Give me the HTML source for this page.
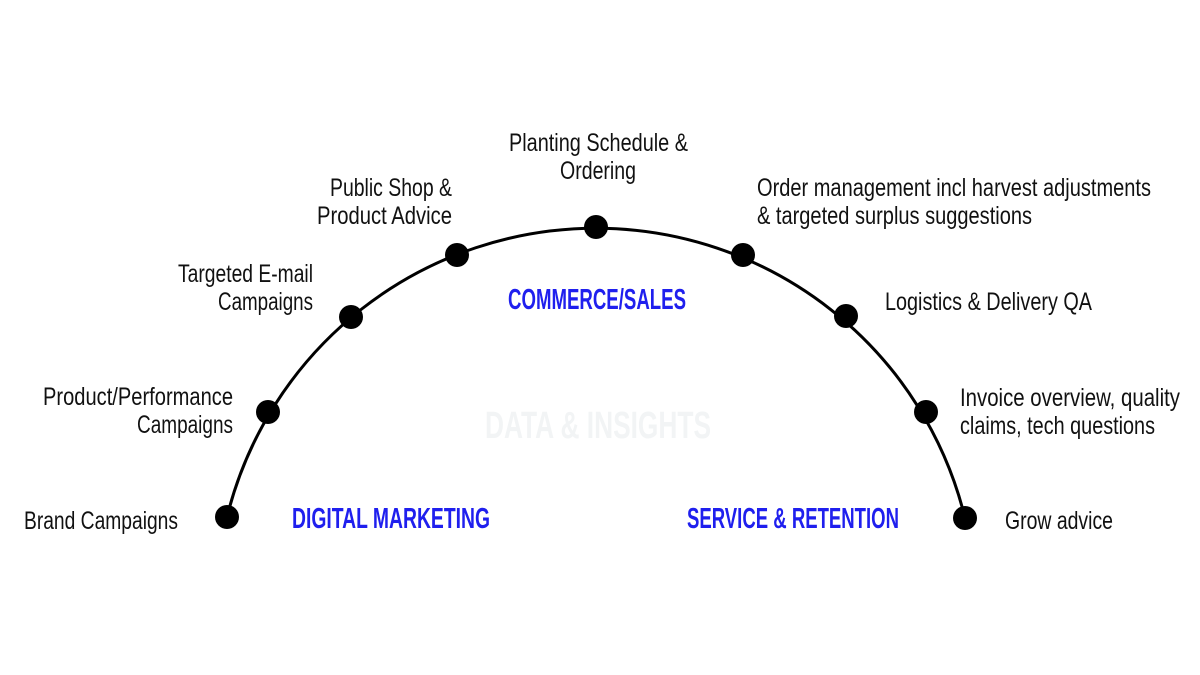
<!DOCTYPE html>
<html><head><meta charset="utf-8"><style>html,body{margin:0;padding:0;background:#fff}svg{display:block}</style></head>
<body>
<svg width="1200" height="675" viewBox="0 0 1200 675" xmlns="http://www.w3.org/2000/svg">
<rect width="1200" height="675" fill="#fff"/>
<text x="485" y="438" font-family="Liberation Sans Narrow, Liberation Sans, sans-serif" font-weight="bold" font-size="38" fill="#f2f4f5" textLength="226" lengthAdjust="spacingAndGlyphs">DATA &amp; INSIGHTS</text>
<path d="M227,517 A380,380 0 0 1 965,518" fill="none" stroke="#000" stroke-width="3"/>
<g fill="#000">
<circle cx="227" cy="517" r="12"/><circle cx="268" cy="412" r="12"/><circle cx="351" cy="317" r="12"/>
<circle cx="457" cy="255" r="12"/><circle cx="596" cy="227" r="12"/><circle cx="743" cy="255" r="12"/>
<circle cx="846" cy="316" r="12"/><circle cx="926" cy="412" r="12"/><circle cx="965" cy="518" r="12"/>
</g>
<g font-family="Liberation Sans Narrow, Liberation Sans, sans-serif" font-size="25" fill="#111">
<text x="24" y="529" textLength="154" lengthAdjust="spacingAndGlyphs">Brand Campaigns</text>
<text x="43" y="405" textLength="190" lengthAdjust="spacingAndGlyphs">Product/Performance</text>
<text x="137" y="433" textLength="96" lengthAdjust="spacingAndGlyphs">Campaigns</text>
<text x="178" y="282" textLength="135" lengthAdjust="spacingAndGlyphs">Targeted E-mail</text>
<text x="218" y="310" textLength="95" lengthAdjust="spacingAndGlyphs">Campaigns</text>
<text x="330" y="196" textLength="122" lengthAdjust="spacingAndGlyphs">Public Shop &amp;</text>
<text x="317" y="224" textLength="135" lengthAdjust="spacingAndGlyphs">Product Advice</text>
<text x="509" y="151" textLength="179" lengthAdjust="spacingAndGlyphs">Planting Schedule &amp;</text>
<text x="560" y="179" textLength="76" lengthAdjust="spacingAndGlyphs">Ordering</text>
<text x="757" y="196" textLength="394" lengthAdjust="spacingAndGlyphs">Order management incl harvest adjustments</text>
<text x="757" y="224" textLength="275" lengthAdjust="spacingAndGlyphs">&amp; targeted surplus suggestions</text>
<text x="885" y="310" textLength="207" lengthAdjust="spacingAndGlyphs">Logistics &amp; Delivery QA</text>
<text x="960" y="406" textLength="220" lengthAdjust="spacingAndGlyphs">Invoice overview, quality</text>
<text x="960" y="434" textLength="195" lengthAdjust="spacingAndGlyphs">claims, tech questions</text>
<text x="1005" y="529" textLength="108" lengthAdjust="spacingAndGlyphs">Grow advice</text>
</g>
<g font-family="Liberation Sans Narrow, Liberation Sans, sans-serif" font-weight="bold" font-size="29" fill="#1f1fee">
<text x="508" y="309" textLength="178" lengthAdjust="spacingAndGlyphs">COMMERCE/SALES</text>
<text x="292" y="528" textLength="198" lengthAdjust="spacingAndGlyphs">DIGITAL MARKETING</text>
<text x="687" y="528" textLength="212" lengthAdjust="spacingAndGlyphs">SERVICE &amp; RETENTION</text>
</g>
</svg>
</body></html>
